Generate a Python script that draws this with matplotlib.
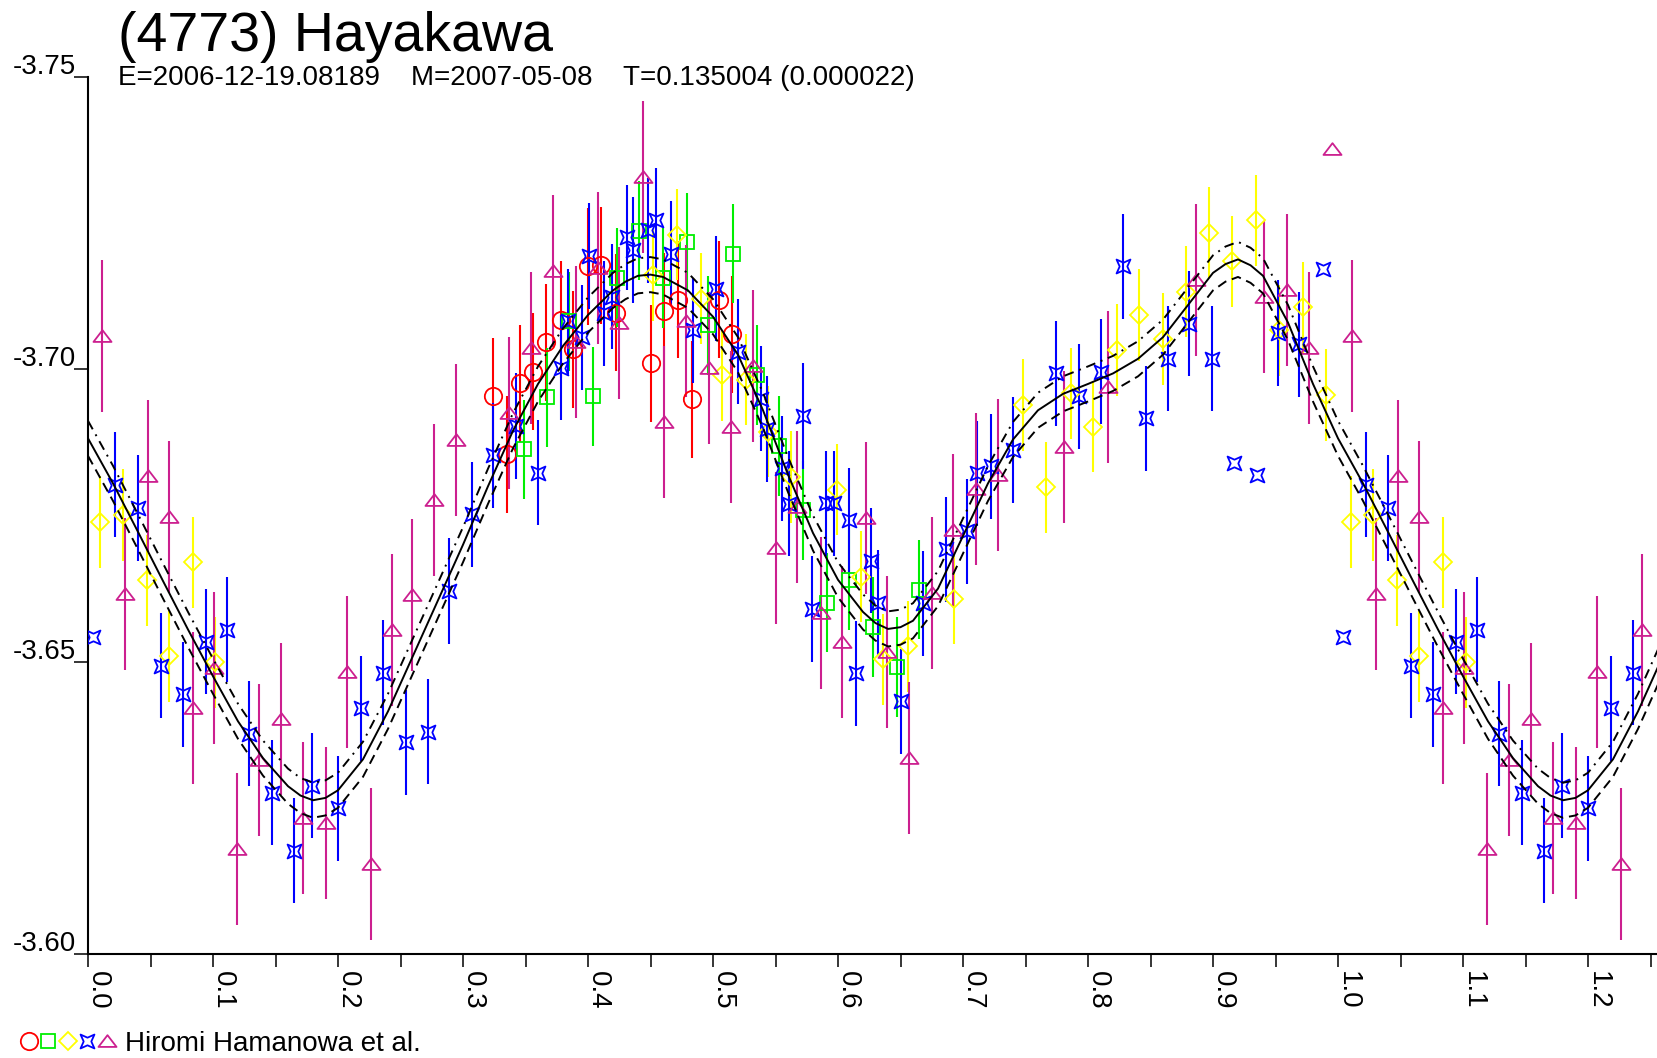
import numpy as np
import matplotlib
matplotlib.use('Agg')
import matplotlib.pyplot as plt
from matplotlib.path import Path
from matplotlib.lines import Line2D
from matplotlib.legend_handler import HandlerTuple
from matplotlib.transforms import ScaledTranslation, blended_transform_factory

plt.rcParams['font.family'] = ['Liberation Sans', 'DejaVu Sans']

TITLE = '(4773) Hayakawa'
SUBTITLE = 'E=2006-12-19.08189    M=2007-05-08    T=0.135004 (0.000022)'
OBSERVER = 'Hiromi Hamanowa et al.'

# phase / reduced magnitude, one cycle (the chart repeats phases < 0.25 after 1.0)
red_phase = [0.324, 0.335, 0.346, 0.356, 0.366, 0.378, 0.388, 0.400, 0.410, 0.422,
             0.450, 0.461, 0.472, 0.483, 0.505, 0.515]
red_mag = [-3.6954, -3.6855, -3.6976, -3.6996, -3.7046, -3.7085, -3.7034, -3.7176, -3.7178, -3.7097,
           -3.7010, -3.7099, -3.7119, -3.6949, -3.7119, -3.7060]
red_err = 0.010

green_phase = [0.349, 0.367, 0.385, 0.404, 0.423, 0.441, 0.460, 0.479, 0.496, 0.516,
               0.535, 0.553, 0.572, 0.591, 0.609, 0.628, 0.647, 0.665]
green_mag = [-3.6863, -3.6952, -3.7082, -3.6954, -3.7157, -3.7237, -3.7156, -3.7217, -3.7075, -3.7198,
             -3.6990, -3.6869, -3.6759, -3.6601, -3.6640, -3.6559, -3.6491, -3.6623]
green_err = 0.0085

yellow_phase = [0.010, 0.028, 0.047, 0.065, 0.084, 0.102, 0.452, 0.471, 0.490, 0.507,
                0.526, 0.544, 0.562, 0.599, 0.618, 0.636, 0.656, 0.693, 0.748, 0.766,
                0.786, 0.804, 0.823, 0.841, 0.860, 0.878, 0.897, 0.915, 0.934, 0.953,
                0.972, 0.990]
yellow_mag = [-3.6739, -3.6751, -3.6639, -3.6509, -3.6670, -3.6499, -3.7161, -3.7230, -3.7121, -3.6990,
              -3.6982, -3.6893, -3.6816, -3.6794, -3.6645, -3.6504, -3.6526, -3.6608, -3.6939, -3.6798,
              -3.6959, -3.6902, -3.7033, -3.7093, -3.7052, -3.7133, -3.7234, -3.7185, -3.7255, -3.7067,
              -3.7106, -3.6956]
yellow_err = 0.0078

blue_phase = [0.022, 0.040, 0.058, 0.076, 0.094, 0.111, 0.129, 0.147, 0.165, 0.179,
              0.200, 0.218, 0.236, 0.254, 0.272, 0.289, 0.307, 0.324, 0.342, 0.360,
              0.378, 0.384, 0.395, 0.401, 0.413, 0.419, 0.431, 0.436, 0.448, 0.454,
              0.466, 0.484, 0.502, 0.520, 0.538, 0.543, 0.555, 0.561, 0.572, 0.579,
              0.590, 0.597, 0.609, 0.614, 0.626, 0.632, 0.650, 0.668, 0.686, 0.703,
              0.711, 0.722, 0.740, 0.774, 0.793, 0.810, 0.828, 0.846, 0.864, 0.881,
              0.899, 0.952, 0.969]
blue_mag = [-3.6803, -3.6763, -3.6493, -3.6444, -3.6534, -3.6555, -3.6377, -3.6276, -3.6177, -3.6288,
            -3.6249, -3.6420, -3.6481, -3.6362, -3.6380, -3.6621, -3.6752, -3.6853, -3.6903, -3.6823,
            -3.7003, -3.7082, -3.7055, -3.7194, -3.7096, -3.7124, -3.7226, -3.7204, -3.7238, -3.7255,
            -3.7198, -3.7067, -3.7138, -3.7030, -3.6950, -3.6898, -3.6831, -3.6770, -3.6920, -3.6590,
            -3.6771, -3.6771, -3.6742, -3.6480, -3.6673, -3.6601, -3.6432, -3.6600, -3.6692, -3.6723,
            -3.6822, -3.6834, -3.6862, -3.6993, -3.6954, -3.6996, -3.7176, -3.6916, -3.7018, -3.7078,
            -3.7018, -3.7062, -3.7043]
blue_err = 0.009
# blue points drawn without error bar
blue_nb_phase = [0.004, 0.917, 0.935, 0.988]
blue_nb_mag = [-3.6543, -3.6839, -3.6819, -3.7172]

magenta_phase = [0.011, 0.030, 0.048, 0.065, 0.084, 0.101, 0.119, 0.137, 0.154, 0.172,
                 0.190, 0.207, 0.226, 0.243, 0.259, 0.277, 0.294, 0.337, 0.354, 0.372,
                 0.390, 0.408, 0.425, 0.444, 0.461, 0.478, 0.497, 0.514, 0.532, 0.550,
                 0.567, 0.586, 0.603, 0.622, 0.639, 0.657, 0.675, 0.692, 0.710, 0.728,
                 0.781, 0.816, 0.886, 0.941, 0.959, 0.977]
magenta_mag = [-3.7057, -3.6615, -3.6818, -3.6748, -3.6420, -3.6490, -3.6180, -3.6332, -3.6402, -3.6232,
               -3.6224, -3.6482, -3.6154, -3.6554, -3.6614, -3.6777, -3.6879, -3.6925, -3.7036, -3.7169,
               -3.7046, -3.7173, -3.7079, -3.7329, -3.6910, -3.7082, -3.7002, -3.6902, -3.7005, -3.6694,
               -3.6765, -3.6583, -3.6534, -3.6745, -3.6517, -3.6335, -3.6617, -3.6725, -3.6796, -3.6819,
               -3.6868, -3.6970, -3.7153, -3.7124, -3.7136, -3.7036]
magenta_err = 0.013
magenta_nb_phase = [0.995]
magenta_nb_mag = [-3.7376]

# Fourier fit curve
curve_phase = [0.00, 0.02, 0.04, 0.06, 0.08, 0.10, 0.12, 0.14, 0.16, 0.17,
               0.18, 0.19, 0.20, 0.22, 0.24, 0.26, 0.28, 0.30, 0.32, 0.34,
               0.36, 0.38, 0.40, 0.42, 0.43, 0.44, 0.45, 0.46, 0.48, 0.50,
               0.52, 0.54, 0.56, 0.58, 0.60, 0.62, 0.63, 0.64, 0.65, 0.66,
               0.68, 0.70, 0.72, 0.74, 0.76, 0.78, 0.80, 0.82, 0.84, 0.86,
               0.88, 0.90, 0.91, 0.92, 0.93, 0.94, 0.96, 0.98, 1.00, 1.02,
               1.04, 1.06, 1.08, 1.10, 1.12, 1.14, 1.16, 1.17, 1.18, 1.19,
               1.20, 1.22, 1.24, 1.26]
curve_mag = [-3.6882, -3.6805, -3.6722, -3.6638, -3.6555, -3.6475, -3.6398, -3.6335, -3.6287, -3.6271,
             -3.6263, -3.6267, -3.6280, -3.6333, -3.6415, -3.6510, -3.6605, -3.6700, -3.6800, -3.6895,
             -3.6975, -3.7040, -3.7093, -3.7135, -3.7150, -3.7160, -3.7162, -3.7158, -3.7135, -3.7090,
             -3.7025, -3.6930, -3.6820, -3.6720, -3.6640, -3.6585, -3.6566, -3.6556, -3.6559, -3.6570,
             -3.6625, -3.6715, -3.6805, -3.6880, -3.6930, -3.6958, -3.6975, -3.6993, -3.7018, -3.7055,
             -3.7110, -3.7165, -3.7180, -3.7188, -3.7178, -3.7160, -3.7080, -3.6975, -3.6882, -3.6805,
             -3.6722, -3.6638, -3.6555, -3.6475, -3.6398, -3.6335, -3.6287, -3.6271, -3.6263, -3.6267,
             -3.6280, -3.6333, -3.6415, -3.6510]
band = 0.003

y_ticks = [-3.75, -3.70, -3.65, -3.60]
XMAX = 1.256
WRAP = 0.25

W, H = 1658, 1058
fig = plt.figure(figsize=(W / 100, H / 100), dpi=100)
ax = fig.add_axes([88 / W, 104 / H, 1 - 88 / W, 877 / H])


def wrap(p, m):
    p = np.asarray(p)
    m = np.asarray(m)
    extra = p < WRAP
    return np.concatenate([p, p[extra] + 1]), np.concatenate([m, m[extra]])


star = Path([(-1, -1), (0, -0.55), (1, -1), (0.55, 0), (1, 1), (0, 0.55), (-1, 1), (-0.55, 0), (-1, -1)],
            [Path.MOVETO] + [Path.LINETO] * 7 + [Path.CLOSEPOLY])
tri = Path([(0, 0.7), (1, -0.6), (-1, -0.6), (0, 0.7)],
           [Path.MOVETO, Path.LINETO, Path.LINETO, Path.CLOSEPOLY])

MAG = '#cc1f8f'
series = [
    (red_phase, red_mag, red_err, '#ff0000', 'o', 12.5),
    (green_phase, green_mag, green_err, '#00ee00', 's', 9.5),
    (yellow_phase, yellow_mag, yellow_err, '#ffff00', 'D', 8.8),
    (blue_phase, blue_mag, blue_err, '#0000ff', star, 10),
    (magenta_phase, magenta_mag, magenta_err, MAG, tri, 13),
]

handles = []
for ph, mg, err, col, mk, ms in series:
    x, y = wrap(ph, mg)
    ax.errorbar(x, y, yerr=err, fmt='none', ecolor=col, elinewidth=1.5, capsize=0, zorder=2)
    ax.plot(x, y, ls='none', marker=mk, ms=ms, mfc='none', mec=col, mew=1.3, zorder=3)
    handles.append(Line2D([], [], ls='none', marker=mk, ms=ms, mfc='none', mec=col, mew=1.3))

x, y = wrap(blue_nb_phase, blue_nb_mag)
ax.plot(x, y, ls='none', marker=star, ms=10, mfc='none', mec='#0000ff', mew=1.3, zorder=3)
x, y = wrap(magenta_nb_phase, magenta_nb_mag)
ax.plot(x, y, ls='none', marker=tri, ms=13, mfc='none', mec=MAG, mew=1.3, zorder=3)

cp = np.array(curve_phase)
cm = np.array(curve_mag)
ax.plot(cp, cm, color='black', lw=1.4, zorder=4)
ax.plot(cp, cm - band, color='black', lw=1.4, ls=(0, (5, 3, 1, 3)), zorder=4)
ax.plot(cp, cm + band, color='black', lw=1.4, ls=(0, (5, 3)), zorder=4)

ax.set_xlim(0, XMAX)
ax.set_ylim(-3.60, -3.75)

for s in ['top', 'right']:
    ax.spines[s].set_visible(False)
for s in ['left', 'bottom']:
    ax.spines[s].set_linewidth(1.5)

major = np.round(np.arange(0, 1.2001, 0.1), 2)
ax.set_xticks(major)
ax.set_xticks(np.round(np.arange(0.05, 1.2501, 0.1), 2), minor=True)
ax.set_xticklabels([f'{v:.1f}' for v in major], rotation=-90, fontsize=20)
ax.tick_params(axis='x', which='both', length=9, width=1.1, direction='out', pad=3)
shift = ScaledTranslation(10 / 100, 0, fig.dpi_scale_trans)
for lbl in ax.get_xticklabels():
    lbl.set_transform(lbl.get_transform() + shift)

ax.set_yticks(y_ticks)
ax.tick_params(axis='y', length=10, width=1.1, direction='out', labelleft=False)
ytrans = blended_transform_factory(ax.transAxes, ax.transData) + \
    ScaledTranslation(-12 / 100, 3 / 100, fig.dpi_scale_trans)
for v in y_ticks:
    ax.text(0, v, f'{v:.2f}', transform=ytrans, ha='right', va='baseline', fontsize=20, clip_on=False)

fig.text(118 / W, 1 - 51 / H, TITLE, fontsize=40, va='baseline')
fig.text(118 / W, 1 - 85 / H, SUBTITLE, fontsize=20, va='baseline')

fig.legend(handles=[tuple(handles)], labels=[OBSERVER],
           handler_map={tuple: HandlerTuple(ndivide=None, pad=0)},
           loc='center left', bbox_to_anchor=(19 / W, 1 - 1044 / H),
           frameon=False, borderpad=0, borderaxespad=0,
           handlelength=3.5, handletextpad=0.3, fontsize=20)

fig.savefig('out.png', dpi=100)
